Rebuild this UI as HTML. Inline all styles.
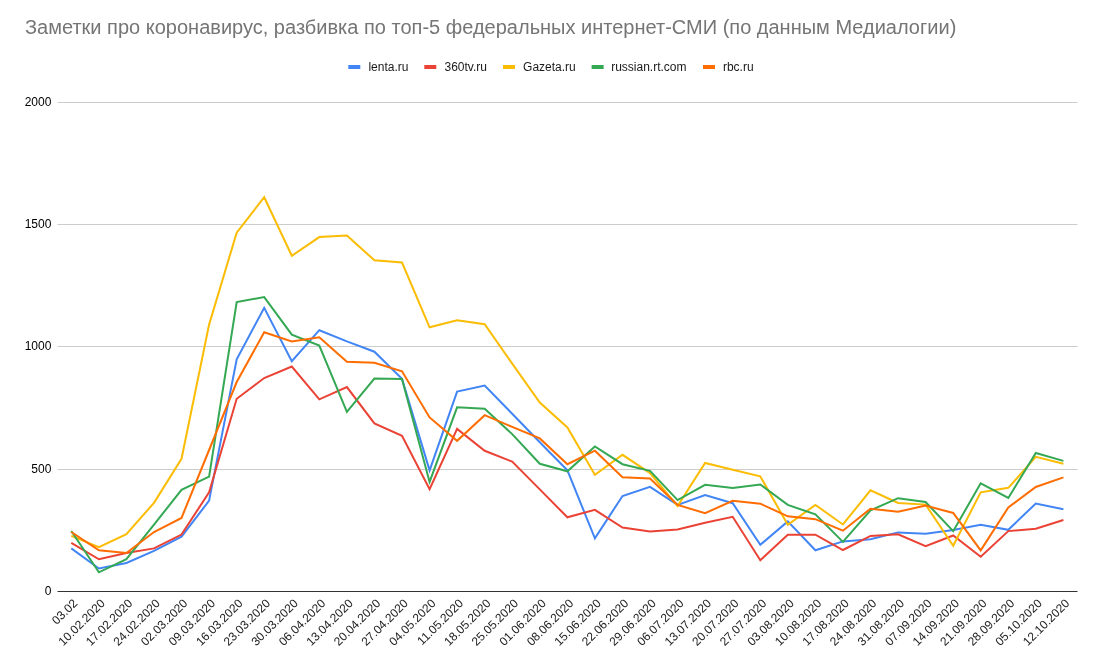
<!DOCTYPE html>
<html><head><meta charset="utf-8"><title>chart</title>
<style>
html,body{margin:0;padding:0;background:#fff;}
body{width:1101px;height:669px;overflow:hidden;}
svg{display:block;will-change:transform;font-family:"Liberation Sans",sans-serif;}
</style></head><body>
<svg width="1101" height="669" viewBox="0 0 1101 669">
<rect width="1101" height="669" fill="#ffffff"/>
<text x="25.0" y="33.7" font-size="20" fill="#757575" textLength="931.3" lengthAdjust="spacingAndGlyphs">Заметки про коронавирус, разбивка по топ-5 федеральных интернет-СМИ (по данным Медиалогии)</text>
<rect x="348.3" y="65" width="12" height="4" fill="#4285f4"/><text x="368.4" y="71" font-size="12" fill="#1a1a1a">lenta.ru</text>
<rect x="424.3" y="65" width="12" height="4" fill="#ea4335"/><text x="444.5" y="71" font-size="12" fill="#1a1a1a">360tv.ru</text>
<rect x="503" y="65" width="12" height="4" fill="#fbbc04"/><text x="523.1" y="71" font-size="12" fill="#1a1a1a">Gazeta.ru</text>
<rect x="591.6" y="65" width="12" height="4" fill="#34a853"/><text x="611.2" y="71" font-size="12" fill="#1a1a1a">russian.rt.com</text>
<rect x="703" y="65" width="12" height="4" fill="#ff6d01"/><text x="722.9" y="71" font-size="12" fill="#1a1a1a">rbc.ru</text>
<rect x="57.5" y="102" width="1020.0" height="1" fill="#cccccc"/>
<rect x="57.5" y="224" width="1020.0" height="1" fill="#cccccc"/>
<rect x="57.5" y="346" width="1020.0" height="1" fill="#cccccc"/>
<rect x="57.5" y="469" width="1020.0" height="1" fill="#cccccc"/>
<text x="51.4" y="105.5" font-size="12" text-anchor="end" fill="#000000">2000</text>
<text x="51.4" y="227.5" font-size="12" text-anchor="end" fill="#000000">1500</text>
<text x="51.4" y="349.5" font-size="12" text-anchor="end" fill="#000000">1000</text>
<text x="51.4" y="472.5" font-size="12" text-anchor="end" fill="#000000">500</text>
<text x="51.4" y="594.5" font-size="12" text-anchor="end" fill="#000000">0</text>
<polyline fill="none" stroke="#4285f4" stroke-width="2" stroke-linejoin="miter" stroke-linecap="butt" points="71.3,548.4 98.9,568.5 126.4,563.0 154.0,550.9 181.5,536.7 209.1,500.7 236.7,359.3 264.2,307.9 291.8,361.2 319.3,330.2 346.9,341.4 374.4,351.7 402.0,378.9 429.6,470.4 457.1,391.6 484.7,385.6 512.2,413.8 539.8,442.2 567.4,470.4 594.9,538.3 622.5,496.0 650.0,486.9 677.6,504.9 705.1,495.1 732.7,503.2 760.3,544.8 787.8,521.4 815.4,550.3 842.9,541.4 870.5,539.3 898.1,532.4 925.6,533.8 953.2,530.0 980.7,524.7 1008.3,529.8 1035.8,503.5 1063.4,509.3"/>
<polyline fill="none" stroke="#ea4335" stroke-width="2" stroke-linejoin="miter" stroke-linecap="butt" points="71.3,542.9 98.9,559.3 126.4,553.0 154.0,548.4 181.5,534.6 209.1,492.3 236.7,398.8 264.2,378.0 291.8,366.5 319.3,399.3 346.9,387.1 374.4,423.4 402.0,435.8 429.6,489.1 457.1,428.9 484.7,450.8 512.2,461.6 539.8,489.4 567.4,517.3 594.9,509.9 622.5,527.6 650.0,531.4 677.6,529.5 705.1,522.8 732.7,516.8 760.3,560.3 787.8,534.7 815.4,534.7 842.9,550.0 870.5,535.9 898.1,534.3 925.6,546.2 953.2,535.5 980.7,556.7 1008.3,531.1 1035.8,528.7 1063.4,520.0"/>
<polyline fill="none" stroke="#fbbc04" stroke-width="2" stroke-linejoin="miter" stroke-linecap="butt" points="71.3,535.8 98.9,547.2 126.4,534.1 154.0,502.8 181.5,458.8 209.1,324.6 236.7,232.6 264.2,197.2 291.8,255.8 319.3,237.1 346.9,235.5 374.4,260.3 402.0,262.5 429.6,327.3 457.1,320.3 484.7,324.2 512.2,363.6 539.8,402.6 567.4,427.5 594.9,474.8 622.5,454.8 650.0,473.1 677.6,506.1 705.1,463.0 732.7,469.7 760.3,476.4 787.8,524.7 815.4,504.9 842.9,524.5 870.5,490.3 898.1,503.0 925.6,504.6 953.2,545.8 980.7,492.3 1008.3,487.8 1035.8,456.9 1063.4,463.7"/>
<polyline fill="none" stroke="#34a853" stroke-width="2" stroke-linejoin="miter" stroke-linecap="butt" points="71.3,531.0 98.9,572.3 126.4,559.2 154.0,524.7 181.5,489.8 209.1,476.6 236.7,302.1 264.2,297.1 291.8,334.6 319.3,345.5 346.9,411.9 374.4,378.5 402.0,378.9 429.6,481.9 457.1,407.3 484.7,408.8 512.2,434.1 539.8,463.8 567.4,471.3 594.9,446.4 622.5,464.2 650.0,470.9 677.6,500.1 705.1,484.8 732.7,488.1 760.3,484.5 787.8,504.9 815.4,514.4 842.9,541.9 870.5,510.4 898.1,498.2 925.6,502.0 953.2,531.2 980.7,483.3 1008.3,498.0 1035.8,453.0 1063.4,460.9"/>
<polyline fill="none" stroke="#ff6d01" stroke-width="2" stroke-linejoin="miter" stroke-linecap="butt" points="71.3,532.0 98.9,550.3 126.4,553.0 154.0,532.0 181.5,518.0 209.1,450.0 236.7,382.0 264.2,332.3 291.8,341.4 319.3,337.3 346.9,361.7 374.4,362.7 402.0,371.3 429.6,417.4 457.1,440.8 484.7,415.2 512.2,426.9 539.8,438.4 567.4,464.2 594.9,450.7 622.5,477.2 650.0,478.6 677.6,504.9 705.1,513.2 732.7,500.8 760.3,503.7 787.8,516.3 815.4,519.2 842.9,530.7 870.5,508.7 898.1,511.8 925.6,505.6 953.2,513.0 980.7,550.4 1008.3,507.5 1035.8,487.0 1063.4,477.4"/>
<rect x="57.5" y="591" width="1020.0" height="1" fill="#333333"/>
<text transform="translate(78.1,604) rotate(-45)" font-size="12" text-anchor="end" fill="#222222">03.02</text>
<text transform="translate(105.7,604) rotate(-45)" font-size="12" text-anchor="end" fill="#222222">10.02.2020</text>
<text transform="translate(133.2,604) rotate(-45)" font-size="12" text-anchor="end" fill="#222222">17.02.2020</text>
<text transform="translate(160.8,604) rotate(-45)" font-size="12" text-anchor="end" fill="#222222">24.02.2020</text>
<text transform="translate(188.3,604) rotate(-45)" font-size="12" text-anchor="end" fill="#222222">02.03.2020</text>
<text transform="translate(215.9,604) rotate(-45)" font-size="12" text-anchor="end" fill="#222222">09.03.2020</text>
<text transform="translate(243.5,604) rotate(-45)" font-size="12" text-anchor="end" fill="#222222">16.03.2020</text>
<text transform="translate(271.0,604) rotate(-45)" font-size="12" text-anchor="end" fill="#222222">23.03.2020</text>
<text transform="translate(298.6,604) rotate(-45)" font-size="12" text-anchor="end" fill="#222222">30.03.2020</text>
<text transform="translate(326.1,604) rotate(-45)" font-size="12" text-anchor="end" fill="#222222">06.04.2020</text>
<text transform="translate(353.7,604) rotate(-45)" font-size="12" text-anchor="end" fill="#222222">13.04.2020</text>
<text transform="translate(381.2,604) rotate(-45)" font-size="12" text-anchor="end" fill="#222222">20.04.2020</text>
<text transform="translate(408.8,604) rotate(-45)" font-size="12" text-anchor="end" fill="#222222">27.04.2020</text>
<text transform="translate(436.4,604) rotate(-45)" font-size="12" text-anchor="end" fill="#222222">04.05.2020</text>
<text transform="translate(463.9,604) rotate(-45)" font-size="12" text-anchor="end" fill="#222222">11.05.2020</text>
<text transform="translate(491.5,604) rotate(-45)" font-size="12" text-anchor="end" fill="#222222">18.05.2020</text>
<text transform="translate(519.0,604) rotate(-45)" font-size="12" text-anchor="end" fill="#222222">25.05.2020</text>
<text transform="translate(546.6,604) rotate(-45)" font-size="12" text-anchor="end" fill="#222222">01.06.2020</text>
<text transform="translate(574.1,604) rotate(-45)" font-size="12" text-anchor="end" fill="#222222">08.06.2020</text>
<text transform="translate(601.7,604) rotate(-45)" font-size="12" text-anchor="end" fill="#222222">15.06.2020</text>
<text transform="translate(629.3,604) rotate(-45)" font-size="12" text-anchor="end" fill="#222222">22.06.2020</text>
<text transform="translate(656.8,604) rotate(-45)" font-size="12" text-anchor="end" fill="#222222">29.06.2020</text>
<text transform="translate(684.4,604) rotate(-45)" font-size="12" text-anchor="end" fill="#222222">06.07.2020</text>
<text transform="translate(711.9,604) rotate(-45)" font-size="12" text-anchor="end" fill="#222222">13.07.2020</text>
<text transform="translate(739.5,604) rotate(-45)" font-size="12" text-anchor="end" fill="#222222">20.07.2020</text>
<text transform="translate(767.1,604) rotate(-45)" font-size="12" text-anchor="end" fill="#222222">27.07.2020</text>
<text transform="translate(794.6,604) rotate(-45)" font-size="12" text-anchor="end" fill="#222222">03.08.2020</text>
<text transform="translate(822.2,604) rotate(-45)" font-size="12" text-anchor="end" fill="#222222">10.08.2020</text>
<text transform="translate(849.7,604) rotate(-45)" font-size="12" text-anchor="end" fill="#222222">17.08.2020</text>
<text transform="translate(877.3,604) rotate(-45)" font-size="12" text-anchor="end" fill="#222222">24.08.2020</text>
<text transform="translate(904.9,604) rotate(-45)" font-size="12" text-anchor="end" fill="#222222">31.08.2020</text>
<text transform="translate(932.4,604) rotate(-45)" font-size="12" text-anchor="end" fill="#222222">07.09.2020</text>
<text transform="translate(960.0,604) rotate(-45)" font-size="12" text-anchor="end" fill="#222222">14.09.2020</text>
<text transform="translate(987.5,604) rotate(-45)" font-size="12" text-anchor="end" fill="#222222">21.09.2020</text>
<text transform="translate(1015.1,604) rotate(-45)" font-size="12" text-anchor="end" fill="#222222">28.09.2020</text>
<text transform="translate(1042.6,604) rotate(-45)" font-size="12" text-anchor="end" fill="#222222">05.10.2020</text>
<text transform="translate(1070.2,604) rotate(-45)" font-size="12" text-anchor="end" fill="#222222">12.10.2020</text>
</svg>
</body></html>
